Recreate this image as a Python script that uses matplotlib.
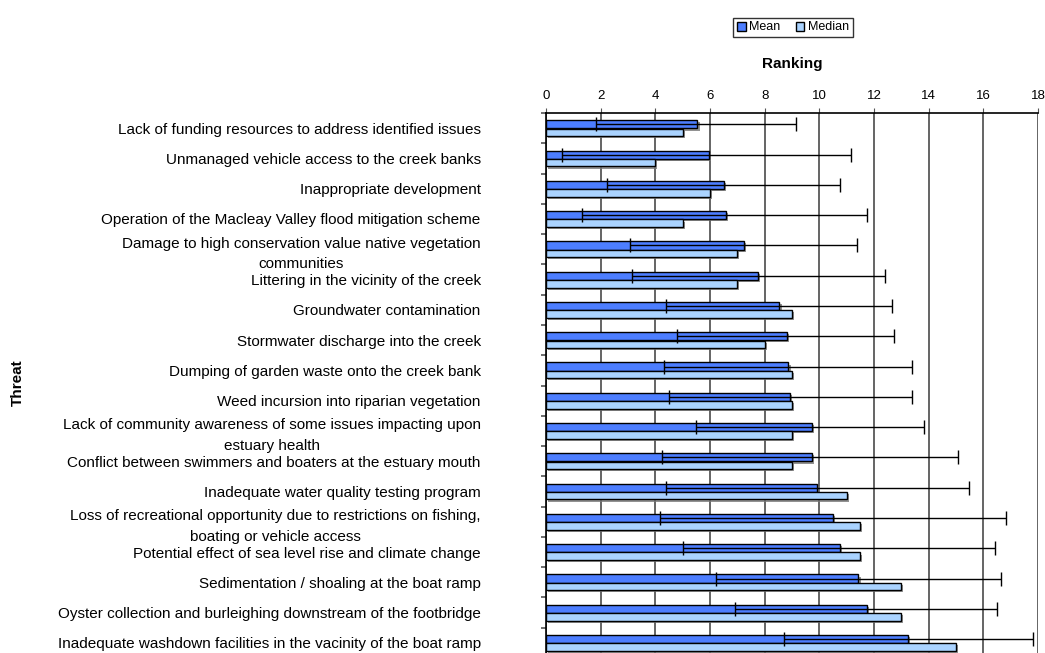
import matplotlib
matplotlib.use('Agg')
import matplotlib.pyplot as plt
import matplotlib.patheffects as pe
from matplotlib.patches import Patch
import numpy as np

plt.rcParams['font.family'] = ['Liberation Sans', 'DejaVu Sans']

threats = [
    'Lack of funding resources to address identified issues',
    'Unmanaged vehicle access to the creek banks',
    'Inappropriate development',
    'Operation of the Macleay Valley flood mitigation scheme',
    'Damage to high conservation value native vegetation\ncommunities',
    'Littering in the vicinity of the creek',
    'Groundwater contamination',
    'Stormwater discharge into the creek',
    'Dumping of garden waste onto the creek bank',
    'Weed incursion into riparian vegetation',
    'Lack of community awareness of some issues impacting upon\nestuary health',
    'Conflict between swimmers and boaters at the estuary mouth',
    'Inadequate water quality testing program',
    'Loss of recreational opportunity due to restrictions on fishing,\nboating or vehicle access',
    'Potential effect of sea level rise and climate change',
    'Sedimentation / shoaling at the boat ramp',
    'Oyster collection and burleighing downstream of the footbridge',
    'Inadequate washdown facilities in the vacinity of the boat ramp',
]
mean = [5.54, 5.95, 6.52, 6.60, 7.24, 7.77, 8.54, 8.81, 8.87, 8.94,
        9.72, 9.72, 9.93, 10.51, 10.77, 11.43, 11.75, 13.25]
median = [5.0, 4.0, 6.0, 5.0, 7.0, 7.0, 9.0, 8.0, 9.0, 9.0,
          9.0, 9.0, 11.0, 11.5, 11.5, 13.0, 13.0, 15.0]
# lower / upper ends of the error bars (mean -/+ sd)
err_low = [1.84, 0.60, 2.23, 1.32, 3.07, 3.13, 4.38, 4.78, 4.31, 4.51,
           5.49, 4.26, 4.38, 4.18, 5.02, 6.21, 6.93, 8.70]
err_high = [9.13, 11.16, 10.77, 11.76, 11.37, 12.40, 12.66, 12.73, 13.39, 13.39,
            13.83, 15.07, 15.47, 16.83, 16.44, 16.64, 16.50, 17.82]

mean_color = '#4D7EFF'
median_color = '#AAD3FF'

fig = plt.figure(figsize=(10.45, 6.53), dpi=100)
ax = fig.add_axes([546 / 1045, -5 / 653, 492 / 1045, 545 / 653])

y = np.arange(len(threats))
mean = np.array(mean)
shadow = [pe.SimplePatchShadow(offset=(1.5, -1.5), shadow_rgbFace='#777777', alpha=0.8), pe.Normal()]

b1 = ax.barh(y - 0.125, mean, height=0.27, color=mean_color, edgecolor='black', linewidth=1, zorder=3)
b2 = ax.barh(y + 0.14, median, height=0.25, color=median_color, edgecolor='black', linewidth=1, zorder=3)
for bar in list(b1) + list(b2):
    bar.set_path_effects(shadow)

xerr = [mean - np.array(err_low), np.array(err_high) - mean]
ax.errorbar(mean, y - 0.125, xerr=xerr, fmt='none', ecolor='black', elinewidth=1,
            capsize=5, capthick=1, zorder=4)

ax.set_xlim(0, 18)
ax.set_ylim(len(threats) - 0.5, -0.5)

# x axis on top
ax.xaxis.tick_top()
ax.set_xticks(np.arange(0, 19, 2))
ax.tick_params(axis='x', length=3.6, color='#555555', labelsize=9.5, pad=4)
ax.xaxis.set_label_position('top')
ax.set_xlabel('Ranking', fontsize=11, fontweight='bold', labelpad=16)
ax.grid(axis='x', color='#3a3a3a', linewidth=1.1, zorder=0)

# category labels, ticks between groups
ax.set_yticks(y)
ax.set_yticklabels(threats, fontsize=11, multialignment='center', linespacing=1.6)
ax.set_yticks(np.arange(-0.5, len(threats), 1), minor=True)
ax.tick_params(axis='y', which='major', length=0, pad=47)
ax.tick_params(axis='y', which='minor', length=3.6, width=1.2, color='#555555')

for s in ['right', 'bottom']:
    ax.spines[s].set_visible(False)
ax.spines['top'].set_linewidth(1.2)
ax.spines['left'].set_linewidth(1.2)

fig.text(18 / 1045, 1 - 383 / 653, 'Threat', rotation=90, ha='center', va='center',
         fontsize=11, fontweight='bold')

handles = [Patch(facecolor=mean_color, edgecolor='black', label='Mean'),
           Patch(facecolor=median_color, edgecolor='black', label='Median')]
leg = fig.legend(handles=handles, loc='center', bbox_to_anchor=(793 / 1045, 1 - 27.5 / 653),
                 ncol=2, fontsize=9, frameon=True, fancybox=False, handlelength=0.7,
                 handleheight=0.7, handletextpad=0.3, columnspacing=1.2, borderpad=0.3)
leg.get_frame().set_edgecolor('black')
leg.get_frame().set_linewidth(1)

fig.savefig('out.png', dpi=100)
